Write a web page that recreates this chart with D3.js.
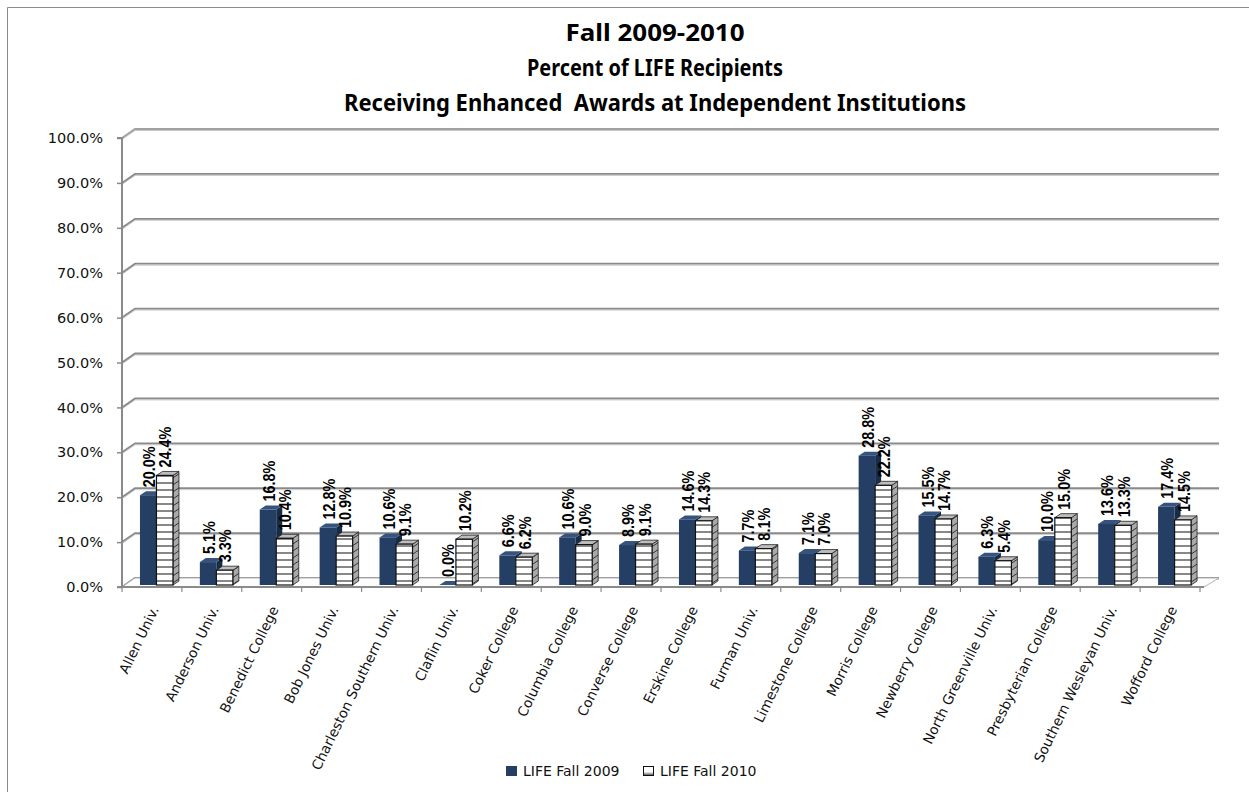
<!DOCTYPE html>
<html>
<head>
<meta charset="utf-8">
<script src="https://cdn.jsdelivr.net/npm/d3@7"></script>
<style>
  html, body { margin: 0; padding: 0; background: #fff; }
  svg { display: block; }
</style>
</head>
<body>
<svg id="chart" width="1249" height="792"></svg>
<script>
// ---------------- data ----------------
const categories = ["Allen Univ.", "Anderson Univ.", "Benedict College", "Bob Jones Univ.",
  "Charleston Southern Univ.", "Claflin Univ.", "Coker College", "Columbia College",
  "Converse College", "Erskine College", "Furman Univ.", "Limestone College",
  "Morris College", "Newberry College", "North Greenville Univ.", "Presbyterian College",
  "Southern Wesleyan Univ.", "Wofford College"];
const seriesNames = ["LIFE Fall 2009", "LIFE Fall 2010"];
const fall2009 = [20.0, 5.1, 16.8, 12.8, 10.6, 0.0, 6.6, 10.6, 8.9, 14.6, 7.7, 7.1, 28.8, 15.5, 6.3, 10.0, 13.6, 17.4];
const fall2010 = [24.4, 3.3, 10.4, 10.9, 9.1, 10.2, 6.2, 9.0, 9.1, 14.3, 8.1, 7.0, 22.2, 14.7, 5.4, 15.0, 13.3, 14.5];
const yTicks = [0, 10, 20, 30, 40, 50, 60, 70, 80, 90, 100];
const titleLines = ["Fall 2009-2010", "Percent of LIFE Recipients", "Receiving Enhanced  Awards at Independent Institutions"];

// ---------------- layout ----------------
const svg = d3.select("#chart");
const W = 1249, H = 792;
const plotL = 122, plotR = 1200;
const depthX = 13, depthY = -9;      // back-wall offset
const barDX = 6, barDY = -4;         // bar depth
const dark = "#243F63", darkTop = "#34537E", darkSide = "#172C48";

svg.append("rect").attr("width", W).attr("height", H).attr("fill", "#fff");
svg.append("path").attr("d", `M7.5,${H}V7.5H${W}`).attr("fill", "none").attr("stroke", "#8c8c8c").attr("stroke-width", 1);

const defs = svg.append("defs");
const pat = defs.append("pattern").attr("id", "hl").attr("patternUnits", "userSpaceOnUse")
  .attr("width", 20).attr("height", 7).attr("y", 0.5);
pat.append("rect").attr("width", 20).attr("height", 7).attr("fill", "#fff");
pat.append("line").attr("x1", 0).attr("x2", 20).attr("y1", 6.5).attr("y2", 6.5).attr("stroke", "#111").attr("stroke-width", 1);
const pat2 = defs.append("pattern").attr("id", "hls").attr("patternUnits", "userSpaceOnUse")
  .attr("width", 20).attr("height", 7).attr("patternTransform", "skewY(-34)");
pat2.append("rect").attr("width", 20).attr("height", 7).attr("fill", "#a9a9a9");
pat2.append("line").attr("x1", 0).attr("x2", 20).attr("y1", 6.5).attr("y2", 6.5).attr("stroke", "#333").attr("stroke-width", 1);
const lg = defs.append("linearGradient").attr("id", "lgw").attr("x1", 0).attr("x2", 0).attr("y1", 0).attr("y2", 1);
lg.append("stop").attr("offset", "0").attr("stop-color", "#fff");
lg.append("stop").attr("offset", "0.6").attr("stop-color", "#fff");
lg.append("stop").attr("offset", "1").attr("stop-color", "#444");

// scales
const x = d3.scaleBand().domain(categories).range([plotL, plotR]).paddingInner(0).paddingOuter(0);
const bw = x.bandwidth();
const xs = d3.scaleBand().domain(seriesNames).range([bw * 0.30, bw * 0.851]).padding(0);
const yF = d3.scaleLinear().domain([0, 100]).range([587, 138]);   // front plane (axis)
const yB = d3.scaleLinear().domain([0, 100]).range([585, 136]);   // bar plane

// ---------------- title ----------------
const titleWidths = [179, 256, 622];
const titleBase = [41, 76, 111];
svg.append("g").selectAll("text").data(titleLines).join("text")
  .attr("x", 655).attr("y", (d, i) => titleBase[i])
  .attr("text-anchor", "middle")
  .attr("textLength", (d, i) => titleWidths[i]).attr("lengthAdjust", "spacingAndGlyphs")
  .style("white-space", "pre")
  .attr("font-family", "'Noto Sans', 'Open Sans', sans-serif").attr("font-weight", "bold").attr("font-size", 23)
  .attr("fill", "#000").text(d => d);

// ---------------- gridlines (back wall) ----------------
const grid = svg.append("g");
yTicks.forEach(t => {
  const yf = yF(t), yb = yf + depthY;
  grid.append("path").attr("d", `M${plotL},${yf}L${plotL + depthX},${yb}H1219`)
    .attr("fill", "none").attr("stroke", "#c9c9c9").attr("stroke-width", 1).attr("transform", "translate(0,1.5)");
  grid.append("path").attr("d", `M${plotL},${yf}L${plotL + depthX},${yb}H1219`)
    .attr("fill", "none").attr("stroke", t === 100 ? "#a0a0a0" : "#8a8a8a").attr("stroke-width", 1.8);
});
// floor
svg.append("path").attr("d", `M${plotL},${yF(0)}L${plotL + depthX},${yF(0) + depthY}H1219L${plotR + 4},${yF(0)}Z`)
  .attr("fill", "#fcfcfc").attr("stroke", "#b5b5b5").attr("stroke-width", 1);

// ---------------- y axis ----------------
const yAxis = d3.axisLeft(yF).tickValues(yTicks).tickFormat(d => d.toFixed(1) + "%").tickSize(5).tickPadding(14);
const yAx = svg.append("g").attr("transform", `translate(${plotL},0)`).call(yAxis);
yAx.select(".domain").attr("stroke", "#8a8a8a").attr("stroke-width", 2).attr("d", `M-5,${yF(100)}H0V${yF(0)}H-5`);
yAx.selectAll(".tick line").attr("stroke", "#8a8a8a").attr("stroke-width", 1.5);
yAx.selectAll(".tick text").attr("font-family", "'DejaVu Sans', sans-serif").attr("font-size", 14.5).attr("fill", "#111");

// ---------------- bars ----------------
const rows = categories.map((c, i) => ({ cat: c, vals: [fall2009[i], fall2010[i]] }));
const barsG = svg.append("g");
rows.forEach(r => {
  r.vals.forEach((v, si) => {
    const s = seriesNames[si];
    const x0 = x(r.cat) + xs(s), w = xs.bandwidth();
    const yt = yB(v), yb = yB(0);
    const g = barsG.append("g");
    if (si === 0) {
      g.append("path").attr("d", `M${x0 + w},${yt}L${x0 + w + barDX},${yt + barDY}V${yb + barDY}L${x0 + w},${yb}Z`).attr("fill", darkSide);
      g.append("path").attr("d", `M${x0},${yt}L${x0 + barDX},${yt + barDY}H${x0 + w + barDX}L${x0 + w},${yt}Z`).attr("fill", darkTop);
      g.append("rect").attr("x", x0).attr("y", yt).attr("width", w).attr("height", yb - yt).attr("fill", dark);
    } else {
      g.append("path").attr("d", `M${x0 + w},${yt}L${x0 + w + barDX},${yt + barDY}V${yb + barDY}L${x0 + w},${yb}Z`)
        .attr("fill", "url(#hls)").attr("stroke", "#222").attr("stroke-width", 0.8);
      g.append("path").attr("d", `M${x0},${yt}L${x0 + barDX},${yt + barDY}H${x0 + w + barDX}L${x0 + w},${yt}Z`)
        .attr("fill", "#bdbdbd").attr("stroke", "#222").attr("stroke-width", 0.8);
      g.append("rect").attr("x", x0).attr("y", yt).attr("width", w).attr("height", yb - yt)
        .attr("fill", "url(#hl)").attr("stroke", "#111").attr("stroke-width", 1.2);
    }
  });
});

// data labels
const labG = svg.append("g");
rows.forEach(r => {
  r.vals.forEach((v, si) => {
    const s = seriesNames[si];
    const cx = x(r.cat) + xs(s) + xs.bandwidth() / 2 + 1;
    const yy = yB(v) - 8;
    labG.append("text")
      .attr("transform", `translate(${cx},${yy}) rotate(-90) scale(0.9,1)`)
      .attr("dy", "0.36em")
      .attr("font-family", "'Liberation Sans', Arial, sans-serif").attr("font-weight", "bold").attr("font-size", 16)
      .attr("fill", "#000").text(v.toFixed(1) + "%");
  });
});

// ---------------- x axis ----------------
const xAxis = d3.axisBottom(x).tickSize(0).tickPadding(0);
const xAx = svg.append("g").attr("transform", `translate(0,${yF(0)})`).call(xAxis);
xAx.select(".domain").attr("stroke", "#8a8a8a").attr("stroke-width", 2).attr("d", `M${plotL},0H${plotR + 4}`);
xAx.selectAll(".tick text")
  .attr("x", 0).attr("y", 0).attr("dy", "0.35em")
  .attr("text-anchor", "end")
  .attr("transform", "translate(3,20) rotate(-64)")
  .attr("font-family", "'DejaVu Sans', sans-serif").attr("font-size", 13.8).attr("fill", "#111");
const bounds = categories.map(c => x(c)).concat([plotR]);
svg.append("g").selectAll("line").data(bounds).join("line")
  .attr("x1", d => d).attr("x2", d => d).attr("y1", yF(0)).attr("y2", yF(0) + 5)
  .attr("stroke", "#8a8a8a").attr("stroke-width", 1.2);

// ---------------- legend ----------------
const leg = svg.append("g");
const legX = [506, 643];
seriesNames.forEach((s, i) => {
  if (i === 0) {
    leg.append("rect").attr("x", legX[i]).attr("y", 766).attr("width", 11).attr("height", 10).attr("fill", dark);
  } else {
    leg.append("rect").attr("x", legX[i] + 0.5).attr("y", 766.5).attr("width", 10).attr("height", 9).attr("fill", "url(#lgw)").attr("stroke", "#111").attr("stroke-width", 1);
  }
  leg.append("text").attr("x", legX[i] + 17).attr("y", 776)
    .attr("font-family", "'DejaVu Sans', sans-serif").attr("font-size", 14).attr("fill", "#111").text(s);
});
</script>
</body>
</html>
